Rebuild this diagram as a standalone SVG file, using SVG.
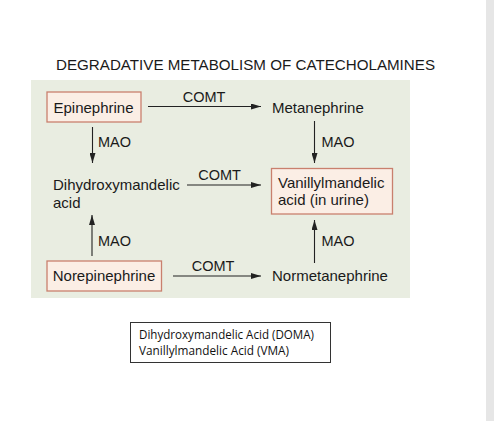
<svg xmlns="http://www.w3.org/2000/svg" width="494" height="421" viewBox="0 0 494 421">
<defs>
<marker id="ah" viewBox="0 0 10 6" refX="10" refY="3" markerWidth="10" markerHeight="6" markerUnits="userSpaceOnUse" orient="auto">
<path d="M0,0 L10,3 L0,6 Z" fill="#222"/>
</marker>
<style>
.t{font-family:"Liberation Sans",Arial,sans-serif;font-size:15px;fill:#1a1a1a}
.lbl{font-family:"Liberation Sans",Arial,sans-serif;font-size:14.5px;fill:#1a1a1a}
.box{fill:#fbeee5;stroke:#c9806e;stroke-width:1.3}
.c{stroke:#222;stroke-width:1.1;fill:none;marker-end:url(#ah)}
.n{font-family:"Open Sans","Noto Sans",sans-serif;font-size:12px;fill:#111}
</style>
</defs>
<rect x="0" y="0" width="494" height="421" fill="#ffffff"/>
<rect x="486" y="0" width="8" height="421" fill="#e6e6e6"/>
<text x="56" y="69.5" class="t" style="font-size:15.5px" textLength="379" lengthAdjust="spacingAndGlyphs">DEGRADATIVE METABOLISM OF CATECHOLAMINES</text>
<rect x="31" y="80" width="379" height="218" fill="#e9ede1"/>
<g id="epinephrine">
<rect x="47" y="92" width="94" height="30" class="box"/>
<text x="93.5" y="113" class="t" text-anchor="middle">Epinephrine</text>
</g>
<g id="metanephrine">
<text x="272" y="112.5" class="t">Metanephrine</text>
</g>
<g id="dihydroxymandelic">
<text x="53" y="189.5" class="t">Dihydroxymandelic</text>
<text x="53" y="207.5" class="t">acid</text>
</g>
<g id="vanillylmandelic">
<rect x="271.5" y="168.5" width="121" height="45.5" class="box"/>
<text x="278" y="187.5" class="t">Vanillylmandelic</text>
<text x="278" y="205" class="t">acid (in urine)</text>
</g>
<g id="norepinephrine">
<rect x="47" y="261" width="114.5" height="30" class="box"/>
<text x="104" y="281" class="t" text-anchor="middle">Norepinephrine</text>
</g>
<g id="normetanephrine">
<text x="272" y="281" class="t">Normetanephrine</text>
</g>
<g id="connectors">
<line x1="148" y1="106.5" x2="261" y2="106.5" class="c"/>
<text x="204" y="102" class="lbl" text-anchor="middle">COMT</text>
<line x1="92.5" y1="127" x2="92.5" y2="163" class="c"/>
<text x="98" y="147" class="lbl">MAO</text>
<line x1="314.5" y1="121" x2="314.5" y2="163" class="c"/>
<text x="321.5" y="147" class="lbl">MAO</text>
<line x1="187" y1="185" x2="261" y2="185" class="c"/>
<text x="219.5" y="180" class="lbl" text-anchor="middle">COMT</text>
<line x1="92" y1="256" x2="92" y2="215" class="c"/>
<text x="98" y="245.5" class="lbl">MAO</text>
<line x1="314.5" y1="263" x2="314.5" y2="220" class="c"/>
<text x="321.5" y="245.5" class="lbl">MAO</text>
<line x1="173" y1="276" x2="261" y2="276" class="c"/>
<text x="213" y="271" class="lbl" text-anchor="middle">COMT</text>
</g>
<g id="legend">
<rect x="130.5" y="322.5" width="200" height="40" fill="#fff" stroke="#333" stroke-width="1"/>
<text x="139" y="338.5" class="n" textLength="175" lengthAdjust="spacingAndGlyphs">Dihydroxymandelic Acid (DOMA)</text>
<text x="139" y="355" class="n" textLength="150" lengthAdjust="spacingAndGlyphs">Vanillylmandelic Acid (VMA)</text>
</g>
</svg>
